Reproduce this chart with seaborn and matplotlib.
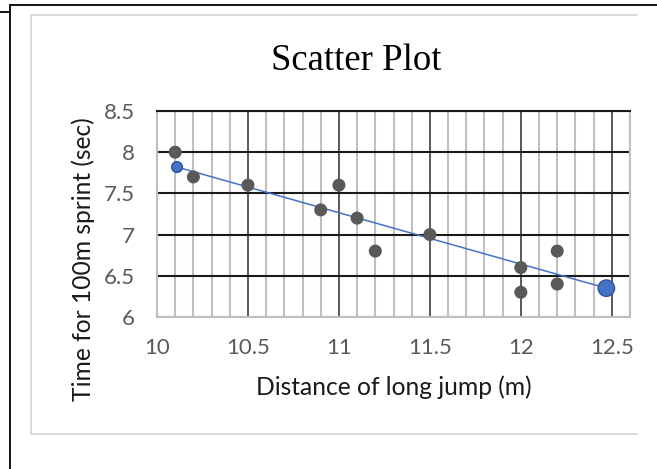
import matplotlib
matplotlib.use("Agg")
import matplotlib.pyplot as plt
import seaborn as sns
import pandas as pd
from matplotlib.lines import Line2D
from matplotlib.ticker import MultipleLocator

# ---- data ----
jump_m = [10.1, 10.2, 10.5, 10.9, 11.0, 11.1, 11.2, 11.5, 12.0, 12.0, 12.2, 12.2]
sprint_s = [8.0, 7.7, 7.6, 7.3, 7.6, 7.2, 6.8, 7.0, 6.6, 6.3, 6.8, 6.4]
trend_x = [10.11, 12.47]
trend_y = [7.82, 6.35]
x_ticks = [10, 10.5, 11, 11.5, 12, 12.5]
x_tick_labels = ["10", "10.5", "11", "11.5", "12", "12.5"]
y_ticks = [6, 6.5, 7, 7.5, 8, 8.5]
y_tick_labels = ["6", "6.5", "7", "7.5", "8", "8.5"]
title = "Scatter Plot"
x_label = "Distance of long jump (m)"
y_label = "Time for 100m sprint (sec)"

df = pd.DataFrame({"x": jump_m, "y": sprint_s})
tr = pd.DataFrame({"x": trend_x, "y": trend_y})

sns.set_theme(style="white")
plt.rcParams["font.family"] = ["Lato", "DejaVu Sans"]

W, H = 657, 469
fig = plt.figure(figsize=(W / 100, H / 100), dpi=100)
fig.patch.set_facecolor("white")

def fx(px):
    return px / W

def fy(py):
    return 1 - py / H

ax_l, ax_r, ax_t, ax_b = 157, 630, 111, 317
ax = fig.add_axes([fx(ax_l), fy(ax_b), fx(ax_r - ax_l), (ax_b - ax_t) / H])
ax.set_facecolor("white")

sns.lineplot(data=tr, x="x", y="y", ax=ax, color="#4472C4", linewidth=1.1,
             zorder=3, legend=False)
sns.scatterplot(data=df, x="x", y="y", ax=ax, color="#595959", s=88,
                edgecolor="none", zorder=4, legend=False)
sns.scatterplot(data=tr, x="x", y="y", ax=ax, size="x", sizes=(60, 140),
                color="#4472C4", edgecolor="#2F5597", linewidth=1.0,
                zorder=5, legend=False)

ax.set_xlim(10, 12.6)
ax.set_ylim(6, 8.5)
ax.set_xticks(x_ticks)
ax.set_xticklabels(x_tick_labels)
ax.set_yticks(y_ticks)
ax.set_yticklabels(y_tick_labels)
ax.xaxis.set_minor_locator(MultipleLocator(0.1))

ax.set_axisbelow(True)
ax.grid(which="minor", axis="x", color="#BFBFBF", linewidth=1.5)
ax.grid(which="major", axis="x", color="#595959", linewidth=1.4)
ax.grid(which="major", axis="y", color="#1A1A1A", linewidth=1.5)

for side in ["left", "right", "bottom"]:
    ax.spines[side].set_color("#BFBFBF")
    ax.spines[side].set_linewidth(1.5)
ax.spines["top"].set_color("#1A1A1A")
ax.spines["top"].set_linewidth(1.5)

ax.tick_params(axis="both", which="both", length=0, labelcolor="#595959",
               labelsize=16)
ax.tick_params(axis="x", pad=15)
ax.tick_params(axis="y", pad=16)
ax.set_xlabel("")
ax.set_ylabel("")

fig.text(fx(356), fy(69.5), title, family=["Liberation Serif", "DejaVu Serif"],
         fontsize=26.5, ha="center", va="baseline", color="black")
fig.text(fx(393.5), fy(395), x_label, fontsize=17.7, ha="center", va="baseline",
         color="#1A1A1A")
fig.text(fx(83), fy(259), y_label, fontsize=17.7, ha="center", va="center",
         rotation=90, color="#1A1A1A")

# outer page border and inner chart frame
fig.add_artist(Line2D([fx(10), fx(10)], [fy(5), fy(H + 5)], color="black", lw=1.3))
fig.add_artist(Line2D([fx(10), fx(W + 5)], [fy(5), fy(5)], color="black", lw=1.3))
fig.add_artist(Line2D([fx(0), fx(10)], [fy(12), fy(12)], color="black", lw=1.3))
fig.add_artist(Line2D([fx(31), fx(31)], [fy(15), fy(434)], color="#D9D9D9", lw=1.4))
fig.add_artist(Line2D([fx(31), fx(637)], [fy(15), fy(15)], color="#D9D9D9", lw=1.4))
fig.add_artist(Line2D([fx(31), fx(637)], [fy(434), fy(434)], color="#D9D9D9", lw=1.4))

fig.savefig("out.png", dpi=100)
